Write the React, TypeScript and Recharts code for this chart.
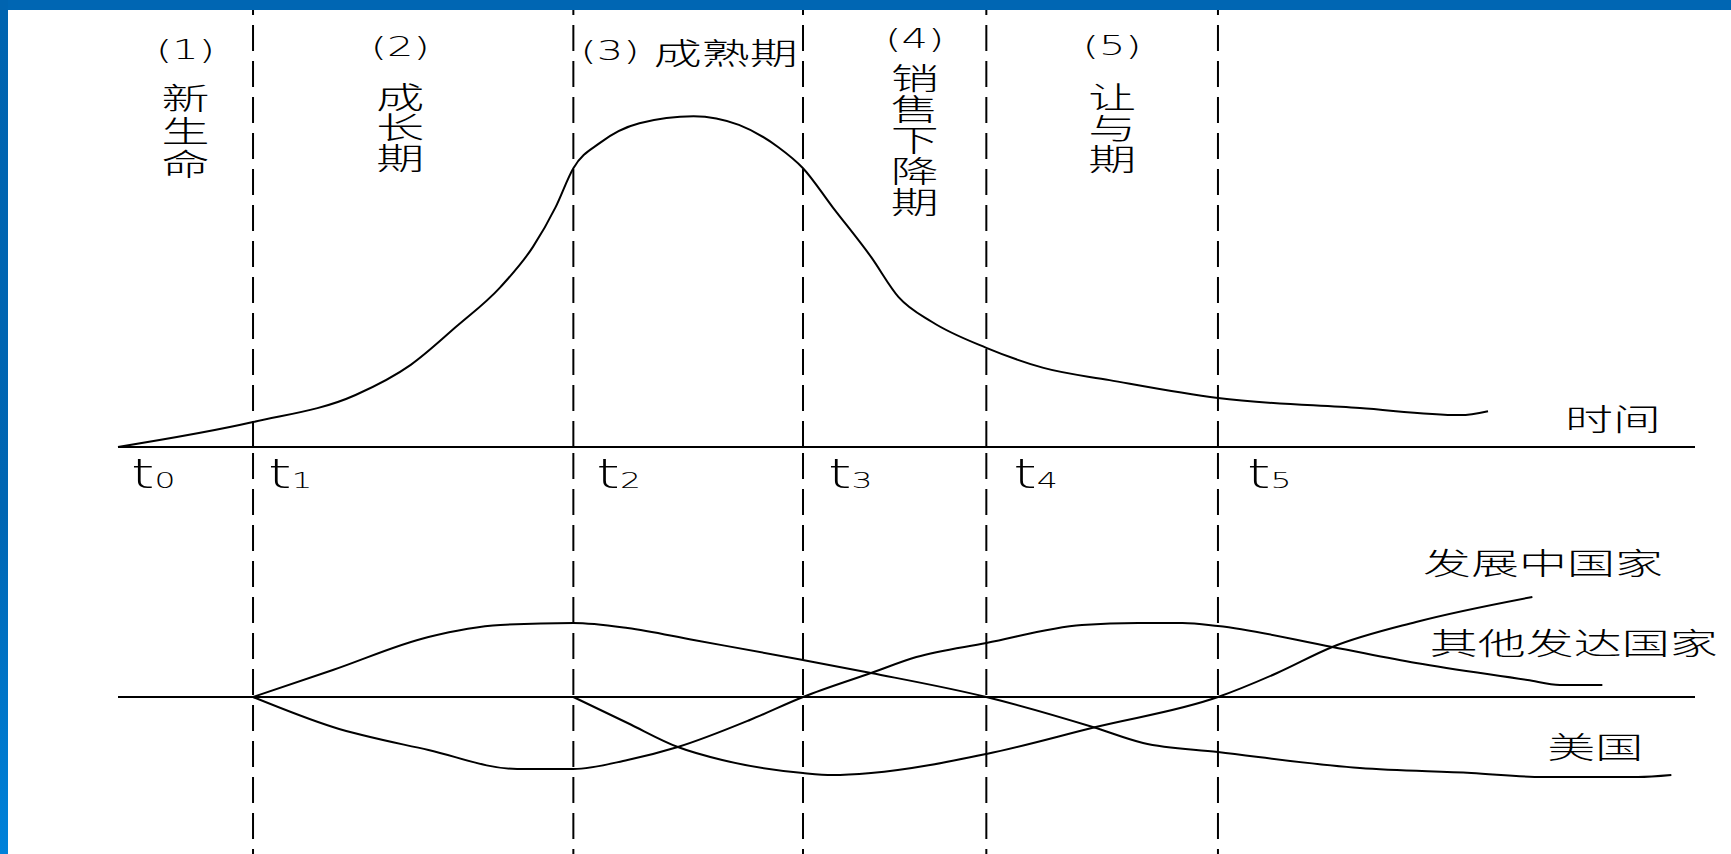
import React from "react";
import {
  LineChart,
  Line,
  XAxis,
  YAxis,
  ReferenceLine,
  ReferenceArea,
  ReferenceDot,
} from "recharts";

// time axis runs 0..160, t0..t5 mark the stages
const stageTimes = [0, 13.7, 46.2, 69.5, 88.1, 111.6];
const tickSubs = ["0", "1", "2", "3", "4", "5"];
const stageNums = ["(1)", "(2)", "(3)", "(4)", "(5)"];
const stageNames = ["新生命", "成长期", "成熟期", "销售下降期", "让与期"];

// 美国销售量 (0..100)
const usSales = [
  { t: 0, v: 0 },
  { t: 13.7, v: 5.7 },
  { t: 24.1, v: 11.9 },
  { t: 29.7, v: 18.8 },
  { t: 34.3, v: 27.5 },
  { t: 38.8, v: 36.6 },
  { t: 42.1, v: 45.8 },
  { t: 44.4, v: 54.9 },
  { t: 46.2, v: 63.8 },
  { t: 48.9, v: 69.6 },
  { t: 52.9, v: 74.1 },
  { t: 58.4, v: 75.7 },
  { t: 63.0, v: 73.7 },
  { t: 67.0, v: 68.6 },
  { t: 69.5, v: 63.8 },
  { t: 72.5, v: 54.9 },
  { t: 76.4, v: 43.5 },
  { t: 79.2, v: 34.3 },
  { t: 82.6, v: 28.6 },
  { t: 88.1, v: 22.7 },
  { t: 93.9, v: 18.1 },
  { t: 100.6, v: 15.3 },
  { t: 111.6, v: 11.2 },
  { t: 126.0, v: 8.9 },
  { t: 136.2, v: 7.3 },
  { t: 139.0, v: 8.2 },
];

// 净出口量 (+) / 净进口量 (-)
const usTrade = [
  { t: 13.7, v: 0 },
  { t: 21.8, v: 10.8 },
  { t: 31.5, v: 24 },
  { t: 38.8, v: 28.8 },
  { t: 46.2, v: 29.6 },
  { t: 51.7, v: 27.6 },
  { t: 58.4, v: 22.8 },
  { t: 69.5, v: 14.8 },
  { t: 76.4, v: 9.6 },
  { t: 88.1, v: 0 },
  { t: 98.9, v: -12 },
  { t: 104, v: -18.4 },
  { t: 111.6, v: -22 },
  { t: 126, v: -28.4 },
  { t: 137.3, v: -30.4 },
  { t: 144.6, v: -32 },
  { t: 154.2, v: -32 },
  { t: 157.6, v: -31.2 },
];

const otherTrade = [
  { t: 13.7, v: 0 },
  { t: 21.8, v: -12 },
  { t: 31.5, v: -21.2 },
  { t: 40.5, v: -28.8 },
  { t: 46.2, v: -28.8 },
  { t: 51.7, v: -25.2 },
  { t: 56.8, v: -20 },
  { t: 64.1, v: -9.2 },
  { t: 69.5, v: 0 },
  { t: 76.4, v: 9.6 },
  { t: 81, v: 16 },
  { t: 88.1, v: 21.6 },
  { t: 97.8, v: 28.8 },
  { t: 103.5, v: 29.6 },
  { t: 108, v: 29.6 },
  { t: 111.6, v: 28.4 },
  { t: 123.2, v: 20 },
  { t: 131.7, v: 13.6 },
  { t: 143, v: 6.8 },
  { t: 146.3, v: 4.8 },
  { t: 150.6, v: 4.8 },
];

const devTrade = [
  { t: 46.2, v: 0 },
  { t: 51.7, v: -10.4 },
  { t: 56.8, v: -20 },
  { t: 61.3, v: -25.2 },
  { t: 69.5, v: -30.4 },
  { t: 72.5, v: -31.2 },
  { t: 76.4, v: -30.4 },
  { t: 88.1, v: -22.8 },
  { t: 99.2, v: -12 },
  { t: 111.6, v: 0 },
  { t: 117.6, v: 9.6 },
  { t: 123.2, v: 20 },
  { t: 131.7, v: 30 },
  { t: 143.5, v: 40 },
];

const tradeNames = ["发展中国家", "其他发达国家", "美国"];
const tradeNameAt = [
  { t: 132.4, v: 54.4 },
  { t: 133.1, v: 22.4 },
  { t: 145.0, v: -19.2 },
];

const W = 1731;
const H = 854;
const TOP = 10;
const AXIS_Y = 447;
const SX = 1.6; // the source picture is stretched sideways
const CJK = '"Noto Sans CJK SC", sans-serif';
const LATIN = '"DejaVu Sans", sans-serif';
const DASH = "26 10";

// per-stage label placement (y relative to plot top)
const stageLayout = [
  { dx: 0, numY: 40, y0: 86, step: 33 },
  { dx: -13, numY: 37, y0: 85, step: 30.5 },
  { dx: 1, numY: 41, y0: 0, step: 0, inline: true },
  { dx: 20, numY: 29, y0: 66.5, step: 31 },
  { dx: 10, numY: 36, y0: 85, step: 31 },
];
const tickDx = [13, 15, 23, 25, 27, 29];

function SText({ x, y, size = 30, family = CJK, anchor = "middle", children }: any) {
  return (
    <g transform={`translate(${x},${y}) scale(${SX},1)`}>
      <text
        x={0}
        y={0}
        fontSize={size}
        fontFamily={family}
        fontWeight={300}
        textAnchor={anchor}
        dominantBaseline="central"
        fill="#000"
      >
        {children}
      </text>
    </g>
  );
}

// upright characters stacked top to bottom, as one text
function Stack({ x, y, step, text }: any) {
  return (
    <g transform={`translate(${x},${y}) scale(${SX},1)`}>
      <text
        fontSize={30}
        fontFamily={CJK}
        fontWeight={300}
        textAnchor="middle"
        dominantBaseline="central"
        fill="#000"
      >
        {Array.from(text as string).map((c, i) => (
          <tspan key={i} x={0} y={i * step}>
            {c}
          </tspan>
        ))}
      </text>
    </g>
  );
}

function StageLabel({ viewBox, index }: any) {
  const { x, y, width } = viewBox;
  const L = stageLayout[index];
  const cx = x + width / 2 + L.dx;
  if (L.inline) {
    return (
      <SText x={cx} y={y + L.numY}>
        <tspan fontFamily={LATIN} fontSize={26}>
          {stageNums[index]}
        </tspan>
        <tspan dx={9}>{stageNames[index]}</tspan>
      </SText>
    );
  }
  return (
    <g>
      <SText x={cx} y={y + L.numY} family={LATIN} size={26}>
        {stageNums[index]}
      </SText>
      <Stack x={cx} y={y + L.y0} step={L.step} text={stageNames[index]} />
    </g>
  );
}

function TimeTick({ x, y, payload }: any) {
  const i = stageTimes.indexOf(payload.value);
  return (
    <g transform={`translate(${x + tickDx[i]},${y + 41}) scale(1.5,1)`}>
      <text x={0} y={0} fontFamily={LATIN} fontSize={40} fontWeight={300} fill="#000">
        <tspan>t</tspan>
        <tspan fontSize={22}>{tickSubs[i]}</tspan>
      </text>
    </g>
  );
}

function TimeTitle({ viewBox }: any) {
  return (
    <SText x={viewBox.x + viewBox.width - 130} y={viewBox.y - 30} anchor="start">
      时间
    </SText>
  );
}

function SalesTitle({ viewBox }: any) {
  return <Stack x={viewBox.x + viewBox.width - 63} y={viewBox.y + 86} step={31.5} text="美国销售量" />;
}

function TradeTitle({ viewBox }: any) {
  const zeroY = viewBox.y + viewBox.height / 2;
  const x = viewBox.x + viewBox.width - 62;
  return (
    <g>
      <Stack x={x} y={zeroY - 138} step={31} text="净出口量" />
      <Stack x={x} y={zeroY + 31} step={31.7} text="净进口量" />
    </g>
  );
}

export default function App() {
  const margin = { top: 0, right: 36, bottom: 0, left: 118 };
  return (
    <div
      style={{
        position: "absolute",
        left: 0,
        top: 0,
        width: W,
        height: H,
        overflow: "hidden",
        background: "#fff",
      }}
    >
      <div style={{ position: "absolute", left: 0, top: 0 }}>
        <LineChart width={W} height={AXIS_Y + 60} margin={{ ...margin, top: TOP }}>
          <XAxis
            dataKey="t"
            type="number"
            domain={[0, 160]}
            ticks={stageTimes}
            height={60}
            tickSize={0}
            tickMargin={0}
            tickLine={false}
            axisLine={{ stroke: "#000", strokeWidth: 2 }}
            tick={<TimeTick />}
            label={<TimeTitle />}
          />
          <YAxis
            dataKey="v"
            type="number"
            domain={[0, 100]}
            width={0}
            tick={false}
            tickLine={false}
            axisLine={{ stroke: "#000", strokeWidth: 2 }}
            label={<SalesTitle />}
          />
          {stageNames.map((_, i) => (
            <ReferenceArea
              key={"s" + i}
              x1={stageTimes[i]}
              x2={stageTimes[i + 1]}
              fill="none"
              stroke="none"
              label={<StageLabel index={i} />}
            />
          ))}
          {stageTimes.slice(1).map((t) => (
            <ReferenceLine key={"u" + t} x={t} stroke="#000" strokeWidth={2} strokeDasharray={DASH} />
          ))}
          <Line
            data={usSales}
            dataKey="v"
            type="monotone"
            stroke="#000"
            strokeWidth={2}
            dot={false}
            isAnimationActive={false}
          />
        </LineChart>
      </div>

      <div style={{ position: "absolute", left: 0, top: AXIS_Y }}>
        <LineChart width={W} height={500} margin={margin}>
          <XAxis dataKey="t" type="number" domain={[0, 160]} hide />
          <YAxis
            dataKey="v"
            type="number"
            domain={[-100, 100]}
            width={0}
            tick={false}
            tickLine={false}
            axisLine={{ stroke: "#000", strokeWidth: 2 }}
            label={<TradeTitle />}
          />
          <ReferenceLine y={0} stroke="#000" strokeWidth={2} />
          {stageTimes.slice(1).map((t) => (
            <ReferenceLine key={"l" + t} x={t} stroke="#000" strokeWidth={2} strokeDasharray={DASH} />
          ))}
          {[usTrade, otherTrade, devTrade].map((d, i) => (
            <Line
              key={"tr" + i}
              data={d}
              dataKey="v"
              type="monotone"
              stroke="#000"
              strokeWidth={2}
              dot={false}
              isAnimationActive={false}
            />
          ))}
          {tradeNames.map((name, i) => (
            <ReferenceDot
              key={name}
              x={tradeNameAt[i].t}
              y={tradeNameAt[i].v}
              r={1}
              shape={(p: any) => (
                <SText x={p.cx} y={p.cy} anchor="start">
                  {name}
                </SText>
              )}
            />
          ))}
        </LineChart>
      </div>

      <div style={{ position: "absolute", left: 0, top: 0, width: W, height: TOP, background: "#0066B3" }} />
      <div
        style={{
          position: "absolute",
          left: 0,
          top: 0,
          width: 8,
          height: H,
          background: "linear-gradient(#0064B0, #0066B3 60%, #0082DA)",
        }}
      />
    </div>
  );
}
